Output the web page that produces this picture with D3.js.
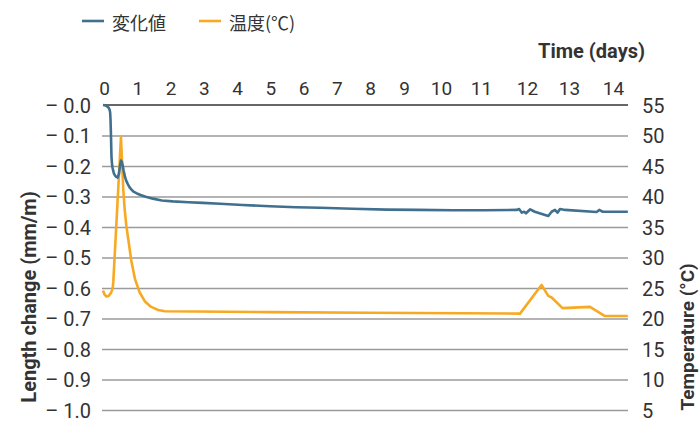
<!DOCTYPE html>
<html>
<head>
<meta charset="utf-8">
<script src="https://cdn.jsdelivr.net/npm/d3@7"></script>
<style>
  html, body { margin: 0; padding: 0; background: #fff; }
  svg { display: block; }
  text { font-family: Roboto, "Noto Sans", sans-serif; fill: #333; }
</style>
</head>
<body>
<svg id="chart" width="699" height="422"></svg>
<script>
// Time axis labels (days)
const dayTicks = [0, 1, 2, 3, 4, 5, 6, 7, 8, 9, 10, 11, 12, 13, 14];
// Left axis ticks: length change (mm/m)
const lengthTicks = [0, -0.1, -0.2, -0.3, -0.4, -0.5, -0.6, -0.7, -0.8, -0.9, -1.0];
// Right axis ticks: temperature (°C)
const tempTicks = [55, 50, 45, 40, 35, 30, 25, 20, 15, 10, 5];

// 変化値 series: time (days) and length change (mm/m)
const lengthDays = [0, 0.06, 0.12, 0.17, 0.2, 0.215, 0.225, 0.24, 0.255, 0.27, 0.285, 0.31, 0.33, 0.36,
  0.39, 0.44, 0.48, 0.51, 0.54, 0.565, 0.59, 0.62, 0.66, 0.7, 0.75, 0.8, 0.86, 0.93, 1.02, 1.13, 1.26,
  1.5, 1.77, 2.1, 2.57, 3.0, 3.52, 4.2, 5.02, 5.8, 6.53, 7.5, 8.52, 9.4, 10.33, 11.1, 11.8,
  11.85, 11.91, 11.96, 12.0, 12.1, 12.21, 12.53, 12.61, 12.69, 12.75, 12.81, 12.93,
  13.65, 13.71, 13.79, 14.36];
const lengthChange = [0, -0.001, -0.004, -0.009, -0.016, -0.025, -0.045, -0.1, -0.17, -0.192, -0.205, -0.217, -0.225, -0.231,
  -0.235, -0.238, -0.225, -0.2, -0.182, -0.186, -0.197, -0.215, -0.235, -0.249, -0.26, -0.27, -0.278, -0.285, -0.29, -0.295, -0.3,
  -0.307, -0.313, -0.316, -0.319, -0.321, -0.324, -0.328, -0.332, -0.335, -0.337, -0.34, -0.343, -0.344, -0.345, -0.345, -0.344,
  -0.341, -0.353, -0.35, -0.355, -0.342, -0.35, -0.364, -0.35, -0.344, -0.353, -0.341, -0.344,
  -0.351, -0.344, -0.35, -0.35];

// 温度 series: time (days) and temperature (°C)
const tempDays = [0, 0.05, 0.11, 0.17, 0.24, 0.29, 0.31, 0.54, 0.57, 0.61, 0.65, 0.7, 0.76, 0.85, 0.96,
  1.1, 1.26, 1.45, 1.66, 1.86, 5, 8, 11.87, 12.37, 12.53, 12.61, 12.87, 13.5, 13.84, 14.36];
const temperature = [24.6, 23.9, 23.6, 23.7, 24.2, 24.9, 26.0, 49.7, 46.0, 41.1, 38.0, 35.3, 33.0, 29.5, 26.5,
  24.3, 22.8, 21.9, 21.4, 21.2, 21.05, 20.95, 20.8, 25.5, 23.7, 23.45, 21.7, 21.9, 20.4, 20.4];

const blue = "#41708f";
const orange = "#f8a922";

const svg = d3.select("#chart");

// Day labels are not evenly spaced along the top, so the time scale is piecewise linear
const x = d3.scaleLinear()
  .domain([0, 8, 9, 10, 11, 12, 13, 14])
  .range([103, 369, 403, 440, 480, 526, 568, 612]);
const xEnd = 628;

const yL = d3.scaleLinear().domain([-1, 0]).range([410, 105]);
const yT = d3.scaleLinear().domain([5, 55]).range([410, 105]);

// Horizontal gridlines
svg.append("g")
  .attr("transform", `translate(${xEnd},0)`)
  .call(d3.axisLeft(yL).tickValues(lengthTicks.slice(1)).tickSize(xEnd - 102).tickFormat(""))
  .call(g => g.select(".domain").remove())
  .call(g => g.selectAll("line").attr("stroke", "#9a9a9a").attr("stroke-width", 1.3));

// Zero line
svg.append("line")
  .attr("x1", 103).attr("x2", xEnd)
  .attr("y1", yL(0)).attr("y2", yL(0))
  .attr("stroke", "#333").attr("stroke-width", 1.4);

// Left axis labels
svg.append("g")
  .attr("transform", "translate(91,0)")
  .call(d3.axisLeft(yL).tickValues(lengthTicks).tickSize(0).tickPadding(0)
    .tickFormat(v => "\u2013 " + Math.abs(v).toFixed(1)))
  .call(g => g.select(".domain").remove())
  .call(g => g.selectAll("text")
    .attr("dy", "0.35em")
    .style("font-size", "20px")
    .style("font-family", "Roboto, sans-serif")
    .attr("fill", "#333"));

// Right axis labels
svg.append("g")
  .attr("transform", "translate(642,0)")
  .call(d3.axisRight(yT).tickValues(tempTicks).tickSize(0).tickPadding(0))
  .call(g => g.select(".domain").remove())
  .call(g => g.selectAll("text")
    .attr("dy", "0.35em")
    .style("font-size", "20px")
    .style("font-family", "Roboto, sans-serif")
    .attr("fill", "#333"));

// Top axis labels
svg.append("g")
  .attr("transform", "translate(1,105)")
  .call(d3.axisTop(x).tickValues(dayTicks).tickSize(0).tickPadding(10).tickFormat(d3.format("d")))
  .call(g => g.select(".domain").remove())
  .call(g => g.selectAll("text")
    .style("font-size", "19px")
    .style("font-family", "Roboto, sans-serif")
    .attr("fill", "#333"));

// Series lines
const lengthLine = d3.line()
  .x((d, i) => x(lengthDays[i]))
  .y(d => yL(d));
const tempLine = d3.line()
  .x((d, i) => x(tempDays[i]))
  .y(d => yT(d));

svg.append("path")
  .datum(temperature)
  .attr("d", tempLine)
  .attr("fill", "none")
  .attr("stroke", orange)
  .attr("stroke-width", 2.6)
  .attr("stroke-linejoin", "round");

svg.append("path")
  .datum(lengthChange)
  .attr("d", lengthLine)
  .attr("fill", "none")
  .attr("stroke", blue)
  .attr("stroke-width", 2.6)
  .attr("stroke-linejoin", "round");

// Axis titles
svg.append("text")
  .attr("transform", "translate(36,297) rotate(-90)")
  .attr("text-anchor", "middle")
  .style("font-size", "20px").style("font-weight", "bold")
  .attr("fill", "#222")
  .text("Length change (mm/m)");

svg.append("text")
  .attr("transform", "translate(694,337) rotate(-90)")
  .attr("text-anchor", "middle")
  .style("font-size", "19px").style("font-weight", "bold")
  .attr("fill", "#222")
  .text("Temperature (°C)");

svg.append("text")
  .attr("x", 645).attr("y", 58)
  .attr("text-anchor", "end")
  .style("font-size", "20px").style("font-weight", "bold")
  .attr("fill", "#222")
  .text("Time (days)");

// Legend
const legend = [
  { name: "変化値", color: blue, x: 82 },
  { name: "温度(℃)", color: orange, x: 199 }
];
const lg = svg.append("g").selectAll("g").data(legend).join("g")
  .attr("transform", d => `translate(${d.x},21)`);
lg.append("line").attr("x1", 0).attr("x2", 22).attr("stroke", d => d.color).attr("stroke-width", 2.6);
lg.append("text")
  .attr("x", 30).attr("y", 8.5)
  .style("font-family", "'Noto Sans CJK JP', sans-serif")
  .style("font-size", "18px")
  .attr("fill", "#444")
  .text(d => d.name);
</script>
</body>
</html>
